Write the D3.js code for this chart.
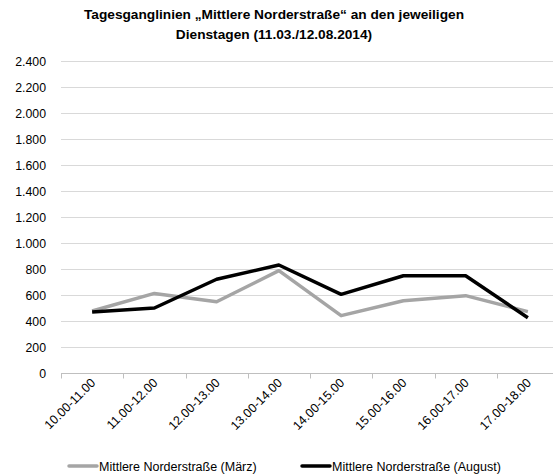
<!DOCTYPE html>
<html>
  <head>
    <script src="https://d3js.org/d3.v7.min.js"></script>
    <style>
      body { margin: 0; background: #fff; }
      text { font-family: "Liberation Sans", Arial, sans-serif; }
    </style>
  </head>
  <body>
    <svg id="chart" width="553" height="474"></svg>
    <script>
      const categories = ["10.00-11.00", "11.00-12.00", "12.00-13.00", "13.00-14.00",
                          "14.00-15.00", "15.00-16.00", "16.00-17.00", "17.00-18.00"];
      const maerz = [477, 612, 548, 787, 441, 556, 595, 472];
      const august = [469, 500, 721, 831, 605, 748, 748, 425];
      const seriesNames = ["Mittlere Norderstraße (März)", "Mittlere Norderstraße (August)"];
      const yTicks = [0, 200, 400, 600, 800, 1000, 1200, 1400, 1600, 1800, 2000, 2200, 2400];

      const svg = d3.select("#chart");
      const fmt = d3.format(",");
      const deFmt = v => fmt(v).replace(/,/g, ".");

      const x = d3.scaleBand().domain(categories).range([61, 559]);
      const y = d3.scaleLinear().domain([0, 2400]).range([373, 61]);

      // title
      const title = svg.append("text")
        .attr("text-anchor", "middle")
        .attr("font-weight", "bold")
        .attr("font-size", 13.7)
        .attr("fill", "#000");
      title.append("tspan").attr("x", 274).attr("y", 19).text("Tagesganglinien „Mittlere Norderstraße“ an den jeweiligen");
      title.append("tspan").attr("x", 274).attr("y", 39).text("Dienstagen (11.03./12.08.2014)");

      // gridlines
      svg.append("g")
        .selectAll("line")
        .data(yTicks.filter(d => d > 0))
        .enter()
        .append("line")
        .attr("x1", 61).attr("x2", 553)
        .attr("y1", d => Math.round(y(d)) + 0.5)
        .attr("y2", d => Math.round(y(d)) + 0.5)
        .attr("stroke", "#d9d9d9");

      // y labels
      svg.append("g")
        .selectAll("text")
        .data(yTicks)
        .enter()
        .append("text")
        .attr("x", 46)
        .attr("y", d => y(d) + 4.5)
        .attr("text-anchor", "end")
        .attr("font-size", 12.3)
        .attr("fill", "#000")
        .text(deFmt);

      // x axis
      const xAxis = svg.append("g")
        .attr("transform", "translate(0," + (Math.round(y(0)) + 0.5) + ")");
      xAxis.append("line").attr("x1", 61).attr("x2", 553).attr("stroke", "#bfbfbf");
      xAxis.selectAll("line.tick")
        .data(categories)
        .enter()
        .append("line")
        .attr("class", "tick")
        .attr("x1", d => Math.round(x(d)) + 0.5)
        .attr("x2", d => Math.round(x(d)) + 0.5)
        .attr("y1", 0).attr("y2", 5)
        .attr("stroke", "#bfbfbf");
      xAxis.selectAll("text")
        .data(categories)
        .enter()
        .append("text")
        .attr("text-anchor", "end")
        .attr("font-size", 12.5)
        .attr("fill", "#000")
        .attr("transform", d => "translate(" + (x(d) + x.bandwidth() / 2 + 4) + ",10) rotate(-45)")
        .text(d => d);

      // lines
      const line = d3.line()
        .x((d, i) => x(categories[i]) + x.bandwidth() / 2)
        .y(d => y(d));

      svg.append("path").datum(maerz)
        .attr("d", line).attr("fill", "none")
        .attr("stroke", "#a5a5a5").attr("stroke-width", 3.5)
        .attr("stroke-linejoin", "round");
      svg.append("path").datum(august)
        .attr("d", line).attr("fill", "none")
        .attr("stroke", "#000").attr("stroke-width", 3.5)
        .attr("stroke-linejoin", "round");

      // legend
      const legend = [
        { name: seriesNames[0], color: "#a5a5a5", x: 69 },
        { name: seriesNames[1], color: "#000", x: 302 }
      ];
      const lg = svg.append("g").selectAll("g")
        .data(legend).enter().append("g")
        .attr("transform", d => "translate(" + d.x + ",466)");
      lg.append("line").attr("x1", 0).attr("x2", 28).attr("y1", 0).attr("y2", 0)
        .attr("stroke", d => d.color).attr("stroke-width", 3.5).attr("stroke-linecap", "round");
      lg.append("text").attr("x", 30).attr("y", 4.5)
        .attr("font-size", 12.5).attr("fill", "#000")
        .text(d => d.name);
    </script>
  </body>
</html>
